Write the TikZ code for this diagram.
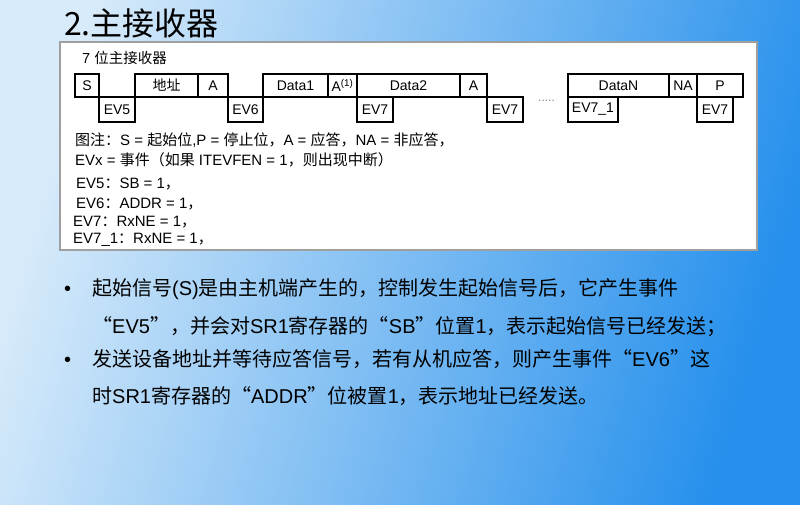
\documentclass[tikz,border=0pt]{standalone}
\usepackage{fontspec}
\setmainfont{Liberation Sans}
\newfontfamily\cjk{Noto Sans CJK SC}
\newcommand\C[1]{{\cjk #1}}
\definecolor{bgA}{RGB}{216,235,250}
\definecolor{bgM}{RGB}{150,203,246}
\definecolor{bgB}{RGB}{38,144,236}
\tikzset{
  box/.style={draw=black, line width=1.8pt, inner sep=0pt, outer sep=0pt, anchor=north west,
    font=\fontsize{14}{16}\selectfont},
  toprow/.style={box, minimum height=23pt},
  botrow/.style={box, minimum height=25pt},
  legend/.style={anchor=base west, inner sep=0pt, font=\fontsize{15}{17}\selectfont},
  bullettext/.style={anchor=base west, inner sep=0pt, font=\fontsize{20}{22}\selectfont},
}
\begin{document}
\begin{tikzpicture}[x=1pt,y=-1pt]
\useasboundingbox (0,0) rectangle (800,505);
\shade[left color=bgA, middle color=bgM, right color=bgB, shading angle=74] (0,0) rectangle (800,505);
% title
\node[anchor=base west, inner sep=0pt, font=\cjk\fontsize{32}{34}\selectfont] (title) at (64,36) {2.主接收器};
% panel
\draw[draw=gray!75, fill=white, line width=1.2pt] (60,42) rectangle (757,250);
\node[anchor=base west, inner sep=0pt, font=\fontsize{14.5}{16}\selectfont] (sub) at (82,63.5) {7 \C{位主接收器}};
% top row
\node[toprow, minimum width=24pt] (s) at (75,74) {S};
\node[toprow, minimum width=63pt] (addr) at (135,74) {\C{地址}};
\node[toprow, minimum width=30pt] (a1) at (198,74) {A};
\node[toprow, minimum width=65pt] (d1) at (263,74) {Data1};
\node[toprow, minimum width=29pt] (a2) at (328,74) {A\textsuperscript{(1)}};
\node[toprow, minimum width=103pt] (d2) at (357,74) {Data2};
\node[toprow, minimum width=27pt] (a3) at (460,74) {A};
\node[toprow, minimum width=101pt] (dn) at (568,74) {DataN};
\node[toprow, minimum width=28pt] (na) at (669,74) {NA};
\node[toprow, minimum width=46pt] (p) at (697,74) {P};
% bottom row
\node[botrow, minimum width=36pt] (ev5) at (99,97) {EV5};
\node[botrow, minimum width=35pt] (ev6) at (228,97) {EV6};
\node[botrow, minimum width=36pt] (ev7a) at (357,97) {EV7};
\node[botrow, minimum width=36pt] (ev7b) at (487,97) {EV7};
\node[botrow, minimum width=50pt] (ev71) at (568,97) {EV7\_1};
\node[botrow, minimum width=36pt] (ev7c) at (697,97) {EV7};
\node[anchor=base west, inner sep=0pt, text=gray, font=\fontsize{12}{12}\selectfont] (dots) at (538,102) {.....};
% legend
\node[legend] (l1) at (75,145.5) {\C{图注：}S = \C{起始位},P = \C{停止位，}A = \C{应答，}NA = \C{非应答，}};
\node[legend] (l2) at (75,165.5) {EVx = \C{事件（如果} ITEVFEN = 1\C{，则出现中断）}};
\node[legend] (l3) at (76,188.5) {EV5\C{：}SB = 1\C{，}};
\node[legend] (l4) at (76,208.5) {EV6\C{：}ADDR = 1\C{，}};
\node[legend] (l5) at (73,226.5) {EV7\C{：}RxNE = 1\C{，}};
\node[legend] (l6) at (73,243.5) {EV7\_1\C{：}RxNE = 1\C{，}};
% bullets
\node[bullettext] (b1) at (64,295.5) {\textbullet};
\node[bullettext] (t1) at (92,295.5) {\C{起始信号}(S)\C{是由主机端产生的，控制发生起始信号后，它产生事件}};
\node[bullettext] (t2) at (92,333.5) {\C{“}EV5\C{”，并会对}SR1\C{寄存器的“}SB\C{”位置}1\C{，表示起始信号已经发送；}};
\node[bullettext] (b2) at (64,366.5) {\textbullet};
\node[bullettext] (t3) at (92,366.5) {\C{发送设备地址并等待应答信号，若有从机应答，则产生事件“}EV6\C{”这}};
\node[bullettext] (t4) at (92,403.5) {\C{时}SR1\C{寄存器的“}ADDR\C{”位被置}1\C{，表示地址已经发送。}};
\end{tikzpicture}
\end{document}
